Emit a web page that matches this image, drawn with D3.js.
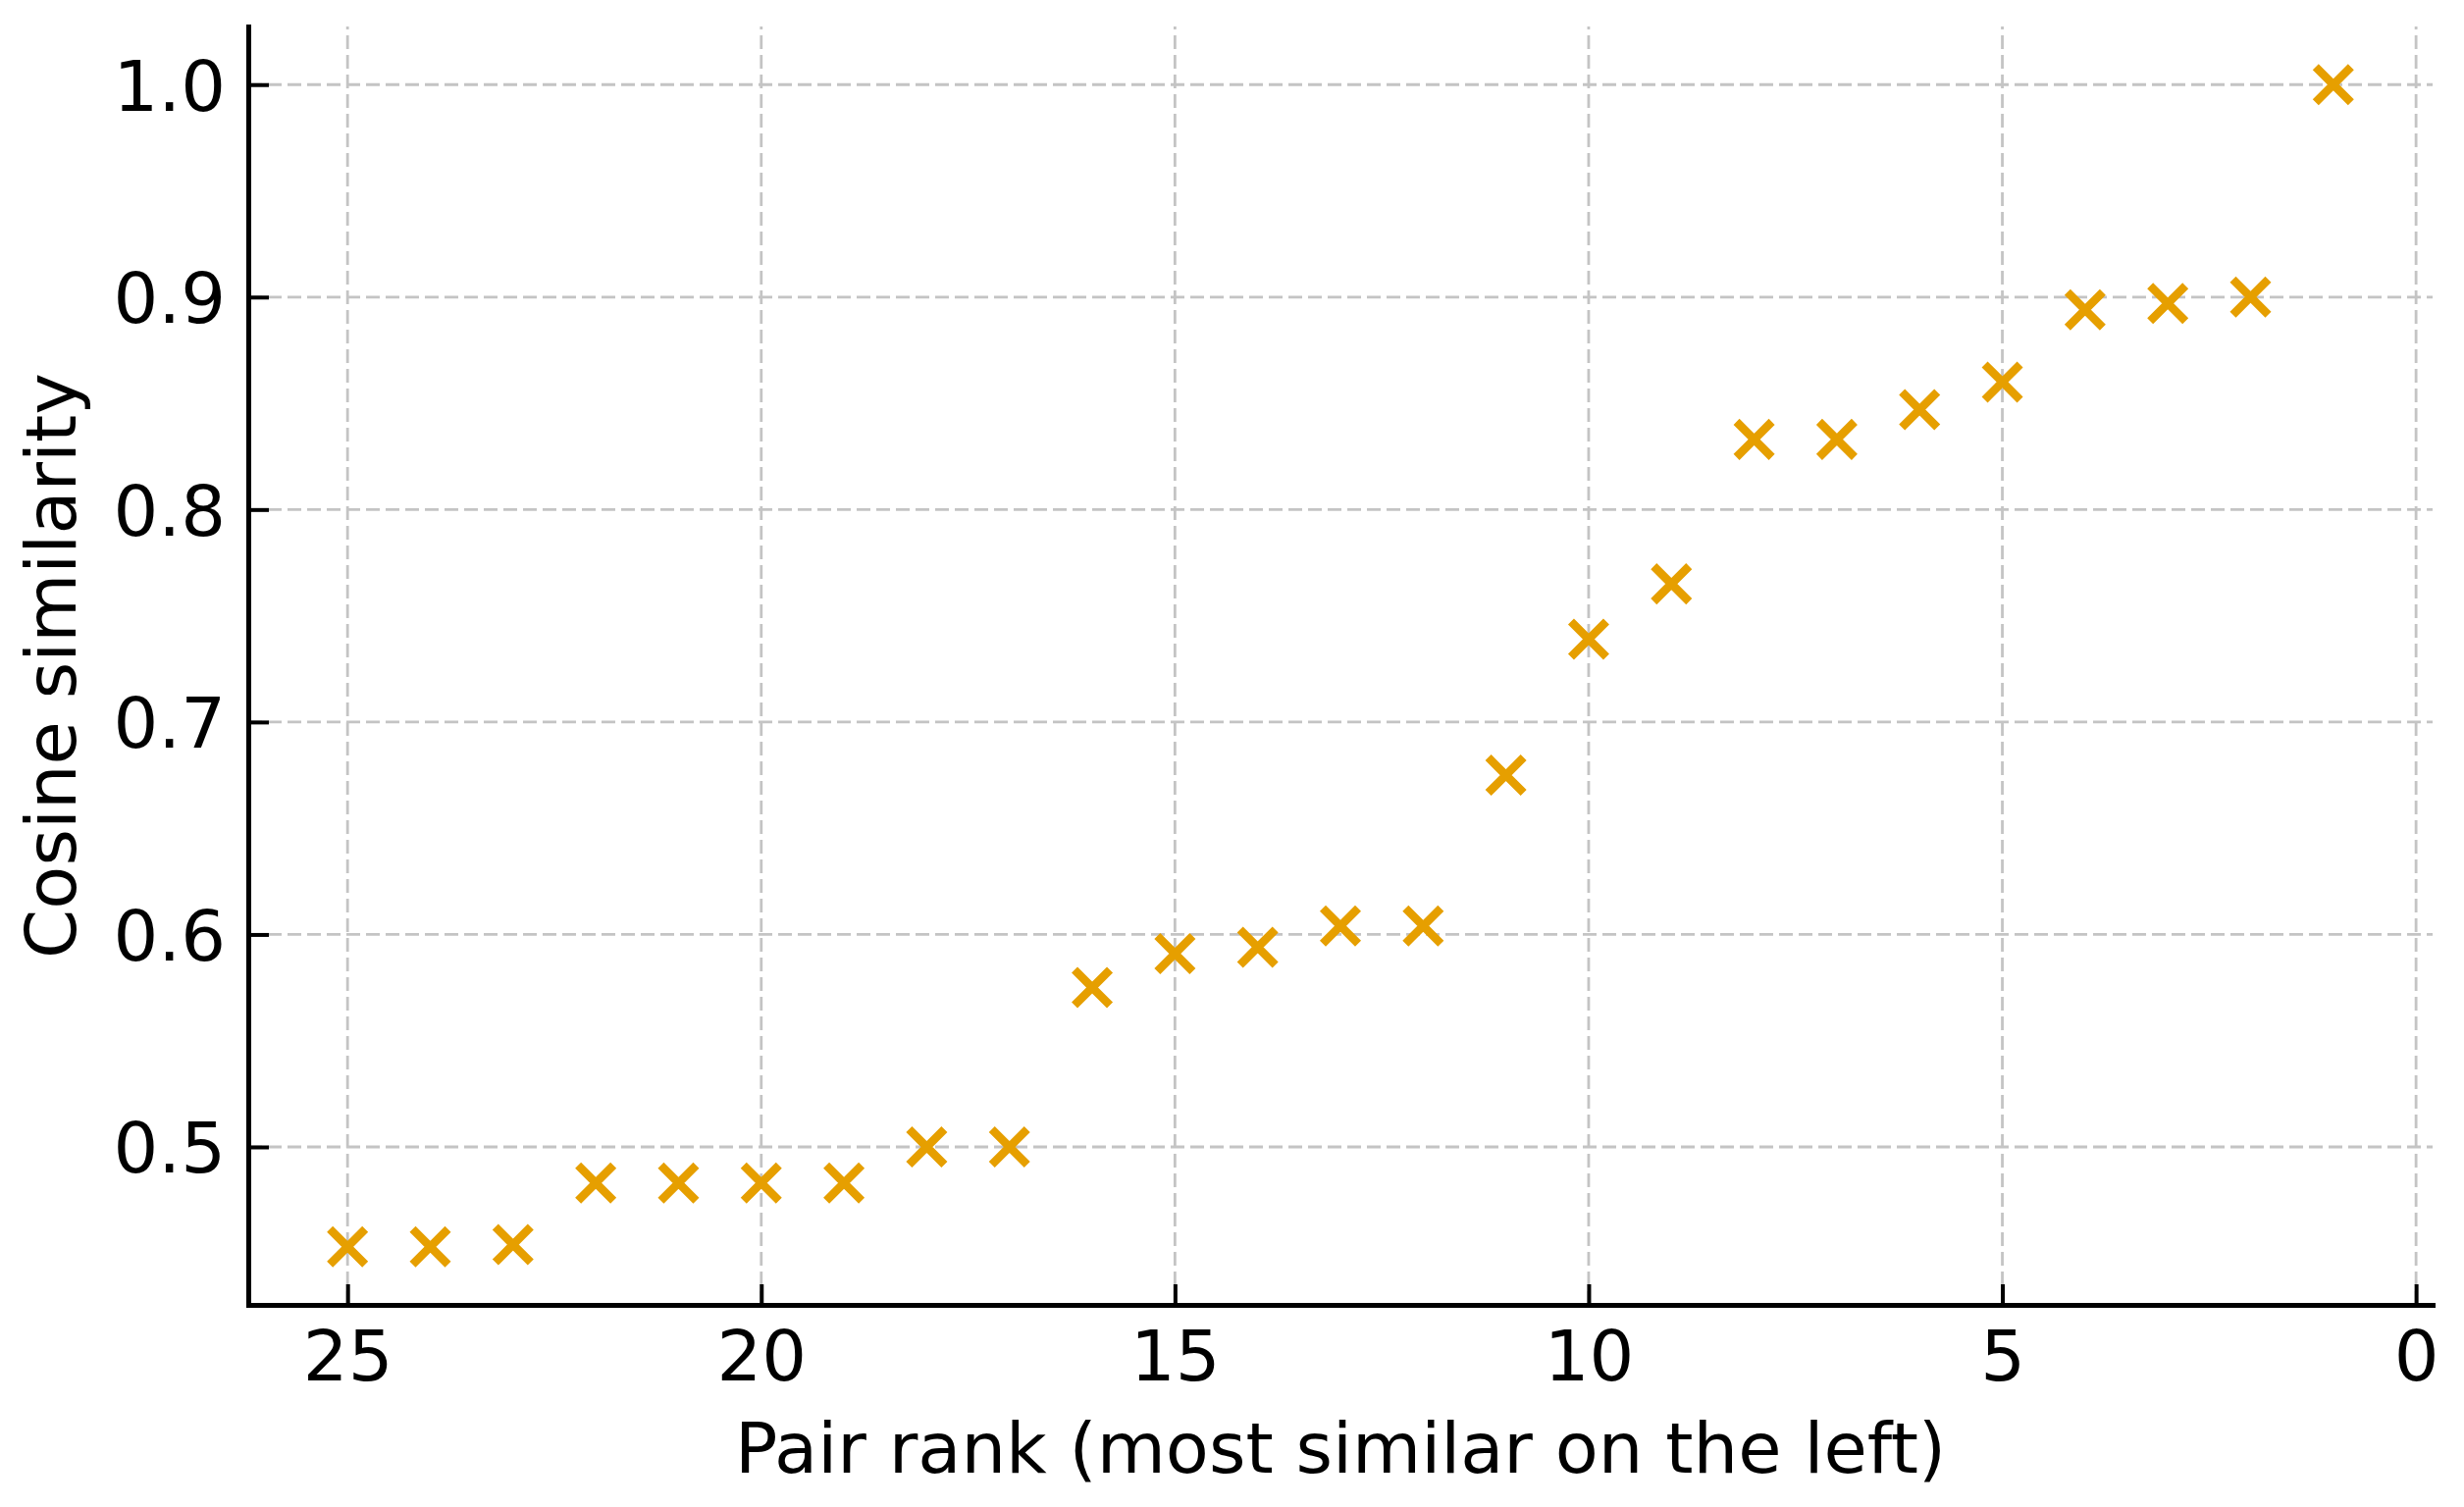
<!DOCTYPE html>
<html>
<head>
<meta charset="utf-8">
<script src="https://cdn.jsdelivr.net/npm/d3@7"></script>
<style>
  html, body { margin: 0; padding: 0; background: #ffffff; }
  svg { display: block; }
  text { font-family: "DejaVu Sans", sans-serif; fill: #000; }
</style>
</head>
<body>
<svg id="chart" width="2511" height="1536"></svg>
<script>
// ---- Data ----
const ranks = [1, 2, 3, 4, 5, 6, 7, 8, 9, 10, 11, 12, 13, 14, 15, 16, 17, 18, 19, 20, 21, 22, 23, 24, 25];
const similarity = [1.000, 0.900, 0.897, 0.894, 0.860, 0.847, 0.833, 0.833, 0.765, 0.739,
                    0.675, 0.604, 0.604, 0.594, 0.591, 0.575, 0.500, 0.500, 0.483, 0.483,
                    0.483, 0.483, 0.454, 0.453, 0.453];
const xTicks = [0, 5, 10, 15, 20, 25];
const yTicks = [0.5, 0.6, 0.7, 0.8, 0.9, 1.0];
const xLabel = "Pair rank (most similar on the left)";
const yLabel = "Cosine similarity";

(function () {
  // ---- Layout ----
  const pLeft = 253, pRight = 2479, pTop = 27, pBottom = 1330;
  const fontSize = 72;
  const markerColor = "#E69F00";

  const svg = d3.select("#chart");

  // matplotlib-like 5% margins
  const xmin = d3.min(ranks), xmax = d3.max(ranks);
  const xm = (xmax - xmin) * 0.05;
  const ymin = d3.min(similarity), ymax = d3.max(similarity);
  const ym = (ymax - ymin) * 0.05;

  const x = d3.scaleLinear().domain([xmax + xm, xmin - xm]).range([pLeft, pRight]);
  const y = d3.scaleLinear().domain([ymin - ym, ymax + ym]).range([pBottom, pTop]);

  // ---- Grid ----
  const grid = svg.append("g").attr("class", "grid")
    .attr("stroke", "#c4c4c4").attr("stroke-width", 2.8).attr("stroke-dasharray", "14,6");
  grid.selectAll("line.v").data(xTicks).join("line").attr("class", "v")
    .attr("x1", d => x(d)).attr("x2", d => x(d)).attr("y1", pBottom).attr("y2", pTop);
  grid.selectAll("line.h").data(yTicks).join("line").attr("class", "h")
    .attr("y1", d => y(d)).attr("y2", d => y(d)).attr("x1", pLeft).attr("x2", pRight);

  // ---- Axes ----
  const xAxis = d3.axisBottom(x).tickValues(xTicks).tickFormat(d3.format("d"))
    .tickSizeInner(-21).tickSizeOuter(0);
  const gx = svg.append("g").attr("transform", `translate(0,${pBottom})`).call(xAxis);
  gx.select(".domain").attr("stroke", "#000").attr("stroke-width", 5).attr("stroke-linecap", "square");
  gx.selectAll(".tick line").attr("stroke", "#000").attr("stroke-width", 4);
  gx.selectAll(".tick text").attr("dy", null).attr("y", 77)
    .attr("font-size", fontSize).attr("font-family", "DejaVu Sans").attr("fill", "#000");

  const yAxis = d3.axisLeft(y).tickValues(yTicks).tickFormat(d3.format(".1f"))
    .tickSizeInner(-21).tickSizeOuter(0);
  const gy = svg.append("g").attr("transform", `translate(${pLeft},0)`).call(yAxis);
  gy.select(".domain").attr("stroke", "#000").attr("stroke-width", 5).attr("stroke-linecap", "square");
  gy.selectAll(".tick line").attr("stroke", "#000").attr("stroke-width", 4);
  gy.selectAll(".tick text").attr("dy", null).attr("x", -23).attr("y", 26)
    .attr("font-size", fontSize).attr("font-family", "DejaVu Sans").attr("fill", "#000");

  // ---- Markers ----
  const s = 18;
  svg.append("g").selectAll("path.pt").data(ranks.map((r, i) => ({ r, v: similarity[i] })))
    .join("path").attr("class", "pt")
    .attr("transform", d => `translate(${x(d.r)},${y(d.v)})`)
    .attr("d", `M${-s},${-s}L${s},${s}M${-s},${s}L${s},${-s}`)
    .attr("fill", "none").attr("stroke", markerColor).attr("stroke-width", 8.5)
    .attr("stroke-linecap", "butt");

  // ---- Axis labels ----
  svg.append("text").attr("x", (pLeft + pRight) / 2).attr("y", 1501)
    .attr("text-anchor", "middle").attr("font-size", fontSize).text(xLabel);
  svg.append("text")
    .attr("transform", `translate(77,${(pTop + pBottom) / 2}) rotate(-90)`)
    .attr("text-anchor", "middle").attr("font-size", fontSize).text(yLabel);
})();
</script>
</body>
</html>
